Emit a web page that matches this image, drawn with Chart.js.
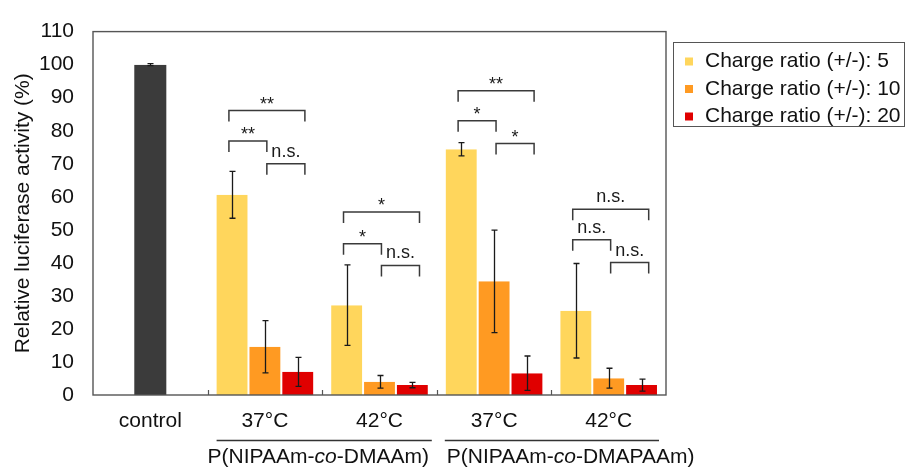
<!DOCTYPE html>
<html>
<head>
<meta charset="utf-8">
<script src="https://cdn.jsdelivr.net/npm/chart.js@4.4.1/dist/chart.umd.min.js"></script>
<style>
  html, body { margin: 0; padding: 0; background: #ffffff; }
  canvas { display: block; }
</style>
</head>
<body>
<canvas id="c" width="906" height="468"></canvas>
<script>
// ---------- DATA ----------
const categories = ['control', '37°C', '42°C', '37°C', '42°C'];
const seriesLabels = ['Charge ratio (+/-): 5', 'Charge ratio (+/-): 10', 'Charge ratio (+/-): 20'];

const controlValues = [100, null, null, null, null];
const controlErrors = [0.3, null, null, null, null];

const ratio5Values  = [null, 60.6, 27.2, 74.4, 25.5];
const ratio5Errors  = [null, 7.1, 12.2, 2.0, 14.3];
const ratio10Values = [null, 14.6, 4.0, 34.4, 5.1];
const ratio10Errors = [null, 7.9, 1.9, 15.5, 3.0];
const ratio20Values = [null, 7.0, 3.0, 6.6, 3.0];
const ratio20Errors = [null, 4.4, 0.8, 5.2, 1.8];

const yMin = 0, yMax = 110, yStep = 10;
const yTitle = 'Relative luciferase activity (%)';

// polymer groups: [first category, last category, label parts (normal, italic, normal)]
const groupSpans = [[1, 2], [3, 4]];
const groupLabelParts = [
  ['P(NIPAAm-', 'co', '-DMAAm)'],
  ['P(NIPAAm-', 'co', '-DMAPAAm)']
];

// significance brackets: [category, from bar, to bar, y level, label]
const sigCategory = [1, 1, 1, 2, 2, 2, 3, 3, 3, 4, 4, 4];
const sigFrom     = [0, 0, 1, 0, 0, 1, 0, 0, 1, 0, 0, 1];
const sigTo       = [2, 1, 2, 2, 1, 2, 2, 1, 2, 2, 1, 2];
const sigLevel    = [86.1, 76.9, 70.0, 55.4, 45.8, 39.2, 92.1, 83.0, 76.1, 56.2, 47.0, 40.1];
const sigText     = ['**', '**', 'n.s.', '*', '*', 'n.s.', '**', '*', '*', 'n.s.', 'n.s.', 'n.s.'];

// ---------- STYLE ----------
const FONT = '"Liberation Sans", Arial, sans-serif';
const colors = ['#FFD65C', '#FF9A22', '#E00000'];
const controlColor = '#3B3B3B';
const errorSets = [controlErrors, ratio5Errors, ratio10Errors, ratio20Errors];

const overlay = {
  id: 'overlay',
  afterDatasetsDraw(chart) {
    const ctx = chart.ctx;
    const ca = chart.chartArea;
    const xs = chart.scales.x, ys = chart.scales.y;
    const catW = xs.getPixelForValue(1) - xs.getPixelForValue(0);
    ctx.save();

    // error bars
    ctx.strokeStyle = '#1a1a1a';
    ctx.lineWidth = 1.3;
    chart.data.datasets.forEach((ds, di) => {
      const meta = chart.getDatasetMeta(di);
      const errs = errorSets[di];
      meta.data.forEach((el, j) => {
        const v = ds.data[j];
        if (v === null || v === undefined || errs[j] === null) return;
        const yt = ys.getPixelForValue(v + errs[j]);
        const yb = ys.getPixelForValue(v - errs[j]);
        const x = Math.round(el.x) + 0.5;
        ctx.beginPath();
        ctx.moveTo(x, yt); ctx.lineTo(x, yb);
        ctx.moveTo(x - 3, yt); ctx.lineTo(x + 3, yt);
        ctx.moveTo(x - 3, yb); ctx.lineTo(x + 3, yb);
        ctx.stroke();
      });
    });

    // plot frame
    ctx.strokeStyle = '#555555';
    ctx.lineWidth = 1.4;
    ctx.strokeRect(ca.left, ca.top, ca.right - ca.left, ca.bottom - ca.top);

    // inner ticks at category boundaries
    ctx.lineWidth = 1.2;
    for (let i = 1; i < categories.length; i++) {
      const bx = Math.round((xs.getPixelForValue(i - 1) + xs.getPixelForValue(i)) / 2) + 0.5;
      ctx.beginPath();
      ctx.moveTo(bx, ca.bottom); ctx.lineTo(bx, ca.bottom - 5);
      ctx.stroke();
    }

    // significance brackets
    const slotOff = [-0.314, 0.017, 0.349];
    ctx.strokeStyle = '#3a3a3a';
    ctx.lineWidth = 1.5;
    ctx.fillStyle = '#1a1a1a';
    ctx.font = '18px ' + FONT;
    ctx.textAlign = 'center';
    ctx.textBaseline = 'alphabetic';
    for (let k = 0; k < sigCategory.length; k++) {
      const c = xs.getPixelForValue(sigCategory[k]);
      const x1 = c + slotOff[sigFrom[k]] * catW;
      const x2 = c + slotOff[sigTo[k]] * catW;
      const y = ys.getPixelForValue(sigLevel[k]);
      ctx.beginPath();
      ctx.moveTo(x1, y + 11); ctx.lineTo(x1, y); ctx.lineTo(x2, y); ctx.lineTo(x2, y + 11);
      ctx.stroke();
      const isStar = sigText[k].indexOf('*') >= 0;
      ctx.fillText(sigText[k], (x1 + x2) / 2, isStar ? y - 1 : y - 7);
    }

    // group lines + labels
    ctx.strokeStyle = '#333333';
    ctx.lineWidth = 1.3;
    ctx.fillStyle = '#111111';
    ctx.textAlign = 'left';
    ctx.textBaseline = 'middle';
    const boundary = (i) => (xs.getPixelForValue(i - 1) + xs.getPixelForValue(i)) / 2;
    const lineStarts = [boundary(groupSpans[0][0]) + 9, boundary(groupSpans[1][0]) + 8];
    const lineEnds = [boundary(groupSpans[0][1] + 1) - 5, ca.right - 7];
    const textStarts = [boundary(groupSpans[0][0]), boundary(groupSpans[1][0]) + 10];
    for (let g = 0; g < groupSpans.length; g++) {
      ctx.beginPath();
      ctx.moveTo(lineStarts[g], 440.5); ctx.lineTo(lineEnds[g], 440.5);
      ctx.stroke();
      let tx = textStarts[g];
      groupLabelParts[g].forEach((part, pi) => {
        ctx.font = (pi === 1 ? 'italic ' : '') + '21px ' + FONT;
        ctx.fillText(part, tx, 457);
        tx += ctx.measureText(part).width;
      });
    }

    // legend
    ctx.strokeStyle = '#555555';
    ctx.lineWidth = 1;
    ctx.strokeRect(673.5, 42.5, 231, 84);
    ctx.font = '21px ' + FONT;
    const rowY = [61.5, 89, 116.5];
    seriesLabels.forEach((lab, i) => {
      ctx.fillStyle = colors[i];
      ctx.fillRect(685, rowY[i] - 4, 8, 8);
      ctx.fillStyle = '#111111';
      ctx.fillText(lab, 705, rowY[i]);
    });

    ctx.restore();
  }
};

const common = { categoryPercentage: 0.86, barPercentage: 1.0,
  borderWidth: { left: 1, right: 1, top: 0, bottom: 0 }, borderColor: '#ffffff', borderSkipped: false };

new Chart(document.getElementById('c'), {
  type: 'bar',
  data: {
    labels: categories,
    datasets: [
      { label: 'control', data: controlValues, backgroundColor: controlColor, grouped: false,
        categoryPercentage: 1, barPercentage: 0.297,
        borderWidth: { left: 1, right: 1, top: 0, bottom: 0 }, borderColor: '#ffffff', borderSkipped: false },
      Object.assign({ label: seriesLabels[0], data: ratio5Values, backgroundColor: colors[0] }, common),
      Object.assign({ label: seriesLabels[1], data: ratio10Values, backgroundColor: colors[1] }, common),
      Object.assign({ label: seriesLabels[2], data: ratio20Values, backgroundColor: colors[2] }, common)
    ]
  },
  options: {
    responsive: false,
    animation: false,
    devicePixelRatio: 1,
    layout: { padding: { top: 23, right: 240, bottom: 0, left: 0 } },
    plugins: { legend: { display: false }, tooltip: { enabled: false } },
    scales: {
      x: {
        type: 'category',
        offset: true,
        grid: { display: false, drawTicks: false },
        border: { display: false },
        ticks: { font: { family: FONT, size: 21 }, color: '#111111', padding: 14, maxRotation: 0, autoSkip: false },
        afterFit: (s) => { s.height = 73; }
      },
      y: {
        min: yMin, max: yMax,
        grid: { display: false, drawTicks: false },
        border: { display: false },
        ticks: { stepSize: yStep, font: { family: FONT, size: 21 }, color: '#111111', padding: 19 },
        title: { display: true, text: yTitle, font: { family: FONT, size: 21 }, color: '#111111', padding: { top: 11, bottom: 0 } },
        afterFit: (s) => { s.width = 93; }
      }
    }
  },
  plugins: [overlay]
});
</script>
</body>
</html>
